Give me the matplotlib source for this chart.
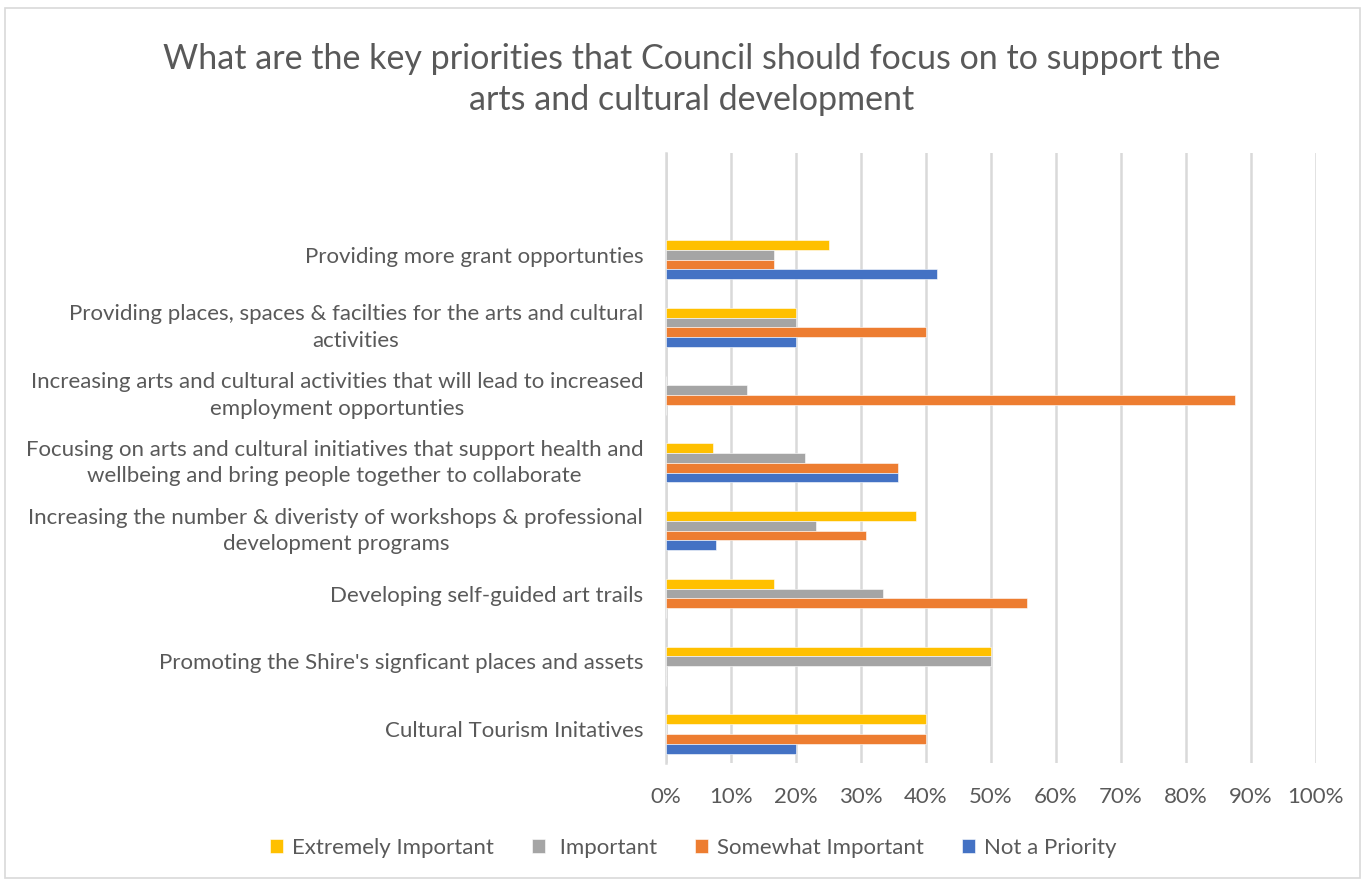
import numpy as np
import matplotlib
matplotlib.use("Agg")
import matplotlib.pyplot as plt
from matplotlib.patches import Rectangle

plt.rcParams['font.family'] = ['Lato', 'DejaVu Sans']

categories = [
    "Cultural Tourism Initatives",
    "Promoting the Shire's signficant places and assets",
    "Developing self-guided art trails",
    "Increasing the number & diveristy of workshops & professional\ndevelopment programs",
    "Focusing on arts and cultural initiatives that support health and\nwellbeing and bring people together to collaborate",
    "Increasing arts and cultural activities that will lead to increased\nemployment opportunties",
    "Providing places, spaces & facilties for the arts and cultural\nactivities",
    "Providing more grant opportunties",
]

# share of responses (%) per category, bottom to top
extremely = [40.0, 50.0, 16.67, 38.46, 7.14, 0.0, 20.0, 25.0]
important = [0.0, 50.0, 33.33, 23.08, 21.43, 12.5, 20.0, 16.67]
somewhat = [40.0, 0.0, 55.56, 30.77, 35.71, 87.5, 40.0, 16.67]
not_priority = [20.0, 0.0, 0.0, 7.69, 35.71, 0.0, 20.0, 41.67]

series_names = ["Extremely Important", " Important", "Somewhat Important", "Not a Priority"]
colors = ["#FFC000", "#A5A5A5", "#ED7D31", "#4472C4"]
text_color = "#595959"

fig = plt.figure(figsize=(13.65, 8.83), dpi=100)
fig.patches.append(Rectangle((0.004, 0.006), 0.992, 0.985, transform=fig.transFigure,
                             fill=False, edgecolor="#D9D9D9", linewidth=1.2))
ax = fig.add_axes([0.488, 0.1359, 0.476, 0.6908])

y = np.arange(len(categories))
h = 0.1445
# five slots per cluster, the top slot stays empty
offsets = [1.0 * h, 0.0, -1.0 * h, -2.0 * h]
for vals, off, col, name in zip([extremely, important, somewhat, not_priority],
                                offsets, colors, series_names):
    ax.barh(y + off, vals, height=h, color=col, edgecolor="white", linewidth=0.4,
            label=name, zorder=3)

ax.set_xlim(0, 100)
ax.set_ylim(-0.5, len(categories) + 0.5)
ax.set_xticks(np.arange(0, 101, 10))
ax.set_xticklabels([f"{v}%" for v in range(0, 101, 10)])
ax.set_yticks(y)
ax.set_yticklabels(categories, multialignment="center", linespacing=1.4)
ax.grid(axis="x", color="#D9D9D9", linewidth=1.8, zorder=0)
for s in ["top", "right", "bottom"]:
    ax.spines[s].set_visible(False)
ax.spines["left"].set_color("#D9D9D9")
ax.spines["left"].set_linewidth(1.8)
ax.tick_params(axis="x", length=0, labelsize=16, labelcolor=text_color, pad=17)
ax.tick_params(axis="y", length=0, labelsize=16, labelcolor=text_color, pad=16.5)

fig.text(0.507, 0.910, "What are the key priorities that Council should focus on to support the\n"
         "arts and cultural development", ha="center", va="center", fontsize=24.5,
         color=text_color, linespacing=1.36)

fig.legend(loc="center", bbox_to_anchor=(0.508, 0.0396), ncol=4, frameon=False,
           handlelength=0.6, handleheight=0.6, handletextpad=0.4, columnspacing=1.7,
           fontsize=16, labelcolor=text_color)

fig.savefig("out.png", dpi=100)
